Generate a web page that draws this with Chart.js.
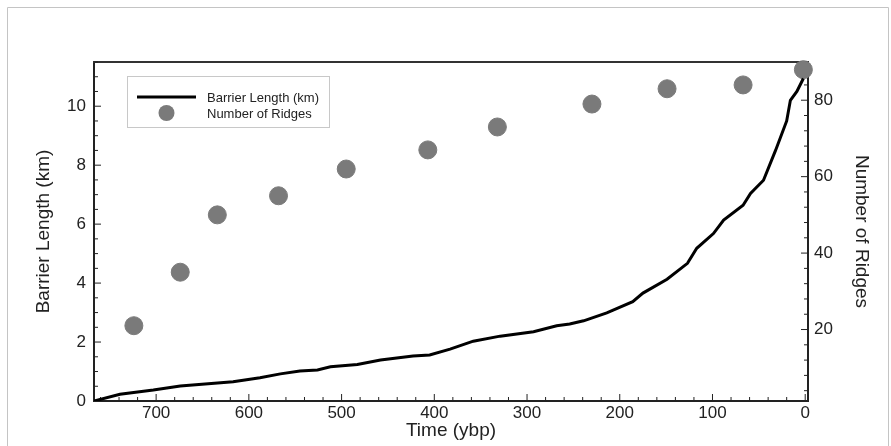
<!DOCTYPE html>
<html>
<head>
<meta charset="utf-8">
<script src="https://cdn.jsdelivr.net/npm/chart.js@4"></script>
<style>
  html, body { margin: 0; padding: 0; background: #fff; }
  #wrap { width: 891px; height: 446px; }
</style>
</head>
<body>
<div id="wrap"><canvas id="ridgesChart" width="891" height="446"></canvas></div>
<script>
// barrier length curve (time in years before present, km)
const lengthTime = [767, 739, 703, 674, 617, 588, 566, 545, 526, 512, 483, 458, 423, 405, 383, 358, 329,
  293, 268, 254, 239, 214, 186, 175, 149, 127, 117, 99, 88, 67, 59, 45, 32, 20, 16, 9, 2]
const lengthKm = [0, 0.23, 0.37, 0.51, 0.65, 0.79, 0.92, 1.02, 1.05, 1.16, 1.24, 1.39, 1.53, 1.56, 1.76, 2.03, 2.2,
  2.35, 2.55, 2.61, 2.72, 2.99, 3.37, 3.66, 4.13, 4.67, 5.18, 5.68, 6.14, 6.64, 7.04, 7.49, 8.5, 9.5, 10.2, 10.5, 10.94]

// number of ridges
const ridgeTime = [724, 674, 634, 568, 495, 407, 332, 230, 149, 67, 2]
const ridgeCount = [21, 35, 50, 55, 62, 67, 73, 79, 83, 84, 88]

// tick labels
const timeTicks = [0, 100, 200, 300, 400, 500, 600, 700]
const kmTicks = [0, 2, 4, 6, 8, 10]
const ridgeTicks = [20, 40, 60, 80]

const lineName = 'Barrier Length (km)'
const dotName = 'Number of Ridges'
const dotColor = '#7a7a7a'
const axisColor = '#222'

const tickFont = { family: 'Liberation Sans, Arial, sans-serif', size: 17 }
const titleFont = { family: 'Liberation Sans, Arial, sans-serif', size: 19 }

/* marco, linia de dalt i marques de les escales */
const frameAndTicks = {
    id: 'frameAndTicks',
    beforeDraw(chart) {
        const ctx = chart.ctx
        ctx.save()
        ctx.strokeStyle = '#c4c4c4'
        ctx.lineWidth = 1
        ctx.beginPath()
        ctx.moveTo(7.5, 446)
        ctx.lineTo(7.5, 7.5)
        ctx.lineTo(888.5, 7.5)
        ctx.lineTo(888.5, 446)
        ctx.stroke()
        ctx.restore()
    },
    beforeDatasetsDraw(chart) {
        const ctx = chart.ctx
        const a = chart.chartArea
        ctx.save()
        ctx.strokeStyle = '#333'
        ctx.lineWidth = 2
        ctx.beginPath()
        ctx.moveTo(a.left - 1, a.top)
        ctx.lineTo(a.right + 1, a.top)
        ctx.stroke()

        const {x, y, y2} = chart.scales
        const mark = (scale, v, len, side) => {
            const p = scale.getPixelForValue(v)
            ctx.beginPath()
            if (side === 'bottom') { ctx.moveTo(p, a.bottom); ctx.lineTo(p, a.bottom - len) }
            if (side === 'left') { ctx.moveTo(a.left, p); ctx.lineTo(a.left + len, p) }
            if (side === 'right') { ctx.moveTo(a.right, p); ctx.lineTo(a.right - len, p) }
            ctx.stroke()
        }
        ctx.strokeStyle = axisColor
        ctx.lineWidth = 1
        for (let v = 0; v <= 760; v += 20) mark(x, v, v % 100 === 0 ? 7 : 4, 'bottom')
        for (let v = 0; v <= 11.5; v += 0.5) mark(y, v, v % 2 === 0 ? 7 : 4, 'left')
        for (let v = 4; v <= 88; v += 4) mark(y2, v, v % 20 === 0 ? 7 : 4, 'right')
        ctx.restore()
    },
    afterDraw(chart) {
        // llegenda
        const ctx = chart.ctx
        ctx.save()
        ctx.fillStyle = '#fff'
        ctx.fillRect(127, 76, 202, 51)
        ctx.strokeStyle = '#c8c8c8'
        ctx.lineWidth = 1
        ctx.strokeRect(127.5, 76.5, 202, 51)
        ctx.strokeStyle = '#000'
        ctx.lineWidth = 3
        ctx.beginPath()
        ctx.moveTo(137, 97)
        ctx.lineTo(196, 97)
        ctx.stroke()
        ctx.fillStyle = dotColor
        ctx.beginPath()
        ctx.arc(166.5, 113, 8, 0, Math.PI * 2)
        ctx.fill()
        ctx.fillStyle = axisColor
        ctx.font = '13px Liberation Sans, Arial, sans-serif'
        ctx.textBaseline = 'middle'
        ctx.fillText(lineName, 207, 98)
        ctx.fillText(dotName, 207, 114)
        ctx.restore()
    }
}

const renderChart = () => {
    const data = {
        datasets: [{
            label: lineName,
            data: lengthTime.map((t, i) => ({x: t, y: lengthKm[i]})),
            showLine: true,
            borderColor: '#000',
            borderWidth: 3,
            pointRadius: 0,
            tension: 0,
            yAxisID: 'y'
        }, {
            label: dotName,
            data: ridgeTime.map((t, i) => ({x: t, y: ridgeCount[i]})),
            backgroundColor: dotColor,
            borderColor: dotColor,
            pointRadius: 9,
            pointHoverRadius: 9,
            clip: false,
            yAxisID: 'y2'
        }]
    }

    const options = {
        responsive: false,
        animation: false,
        layout: { padding: { left: 0, right: 0, top: 62, bottom: 0 } },
        plugins: {
            legend: { display: false },
            tooltip: { enabled: false }
        },
        scales: {
            x: {
                type: 'linear',
                reverse: true,
                min: -3,
                max: 767,
                afterFit: s => { s.height = 45 },
                afterBuildTicks: s => { s.ticks = timeTicks.map(v => ({value: v})) },
                grid: { drawOnChartArea: false, drawTicks: false },
                border: { color: axisColor, width: 2 },
                ticks: { color: axisColor, font: tickFont, padding: 2, maxRotation: 0 },
                title: { display: true, text: 'Time (ybp)', color: axisColor, font: titleFont, padding: { top: 4, bottom: 4 } }
            },
            y: {
                position: 'left',
                min: 0,
                max: 11.5,
                afterFit: s => { s.width = 94 },
                afterBuildTicks: s => { s.ticks = kmTicks.map(v => ({value: v})) },
                grid: { drawOnChartArea: false, drawTicks: false },
                border: { color: axisColor, width: 2 },
                ticks: { color: axisColor, font: tickFont, padding: 8 },
                title: { display: true, text: 'Barrier Length (km)', color: axisColor, font: titleFont, padding: { top: 32, bottom: 32 } }
            },
            y2: {
                position: 'right',
                min: 1.3,
                max: 90,
                afterFit: s => { s.width = 83 },
                afterBuildTicks: s => { s.ticks = ridgeTicks.map(v => ({value: v})) },
                grid: { drawOnChartArea: false, drawTicks: false },
                border: { color: axisColor, width: 2 },
                ticks: { color: axisColor, font: tickFont, padding: 6 },
                title: { display: true, text: 'Number of Ridges', color: axisColor, font: titleFont, padding: { top: 18, bottom: 18 } }
            }
        }
    }

    new Chart('ridgesChart', {type: 'scatter', data, options, plugins: [frameAndTicks]})
}

renderChart()
</script>
</body>
</html>
